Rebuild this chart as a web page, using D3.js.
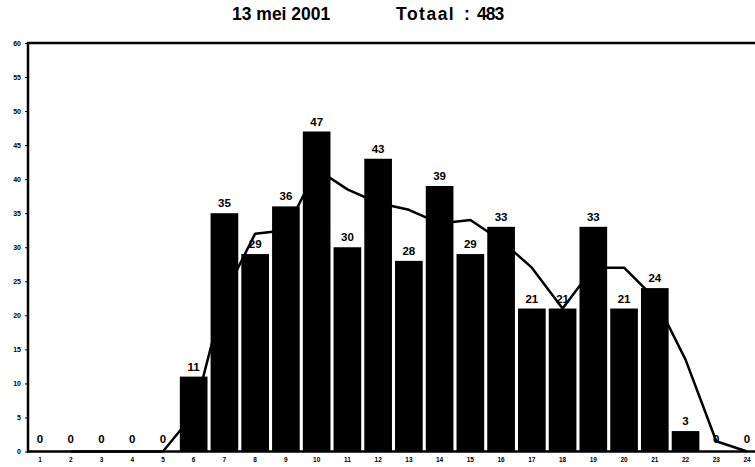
<!DOCTYPE html>
<html>
<head>
<meta charset="utf-8">
<script src="https://cdn.jsdelivr.net/npm/d3@7/dist/d3.min.js"></script>
<style>
  html, body { margin: 0; padding: 0; background: #fff; }
  svg { display: block; font-family: "Liberation Sans", Arial, sans-serif; }
</style>
</head>
<body>
<svg id="chart" width="755" height="467"></svg>
<script>
// ---- data ----
const titleDate = "13 mei 2001";
const titleLabel = "Totaal";
const titleTotal = "483";
const hours = d3.range(1, 25);
const counts = [0,0,0,0,0,11,35,29,36,47,30,43,28,39,29,33,21,21,33,21,24,3,0,0];
// 2-period moving average line (starts at hour 2)
const trend = [null,0,0,0,0,5.5,23,32,32.5,41.5,38.5,36.5,35.5,33.5,34,31,27,21,27,27,22.5,13.5,1.5,0];
const yTicks = [0,5,10,15,20,25,30,35,40,45,50,55,60];

// ---- layout ----
const svg = d3.select("#chart");
const plotLeft = 28, plotTop = 43, plotBottom = 451.5, plotRight = 755;

const x = d3.scaleBand().domain(hours).range([24.6, 762.4]).paddingInner(0.1).paddingOuter(0.05);
const y = d3.scaleLinear().domain([0, 60]).range([plotBottom, plotTop]);

// title
const tt = svg.append("text").attr("y", 20)
  .attr("font-size", 17.5).attr("font-weight", "bold").attr("fill", "#000");
tt.append("tspan").attr("x", 232).text(titleDate);
tt.append("tspan").attr("x", 396).attr("letter-spacing", 1.5).text(titleLabel);
tt.append("tspan").attr("x", 464).text(":");
tt.append("tspan").attr("x", 477).attr("letter-spacing", -1).text(titleTotal);

// bars
svg.append("g").selectAll("rect").data(hours.map((h, i) => ({h, v: counts[i]})))
  .join("rect")
  .attr("x", d => x(d.h))
  .attr("width", x.bandwidth())
  .attr("y", d => y(d.v))
  .attr("height", d => y(0) - y(d.v))
  .attr("fill", "#000");

// trend line
const line = d3.line()
  .defined(d => d.v !== null)
  .x(d => x(d.h) + x.bandwidth() / 2)
  .y(d => y(d.v));
svg.append("path")
  .datum(hours.map((h, i) => ({h, v: trend[i]})))
  .attr("d", line)
  .attr("fill", "none").attr("stroke", "#000").attr("stroke-width", 2.5)
  .attr("stroke-linejoin", "round");

// value labels
svg.append("g").selectAll("text").data(hours.map((h, i) => ({h, v: counts[i]})))
  .join("text")
  .attr("x", d => x(d.h) + x.bandwidth() / 2)
  .attr("y", d => y(d.v) - (d.v === 0 ? 9 : 6))
  .attr("text-anchor", "middle")
  .attr("font-size", 11.5).attr("font-weight", "bold").attr("fill", "#000")
  .text(d => d.v);

// y axis
const yAxis = svg.append("g").attr("transform", `translate(${plotLeft},0)`)
  .call(d3.axisLeft(y).tickValues(yTicks).tickSize(3).tickPadding(4));
yAxis.select(".domain").remove();
yAxis.selectAll("text").attr("font-size", 7).attr("font-weight", "bold").attr("fill", "#000");
yAxis.selectAll("line").attr("stroke", "#000").attr("stroke-width", 1);

// x axis labels
const xAxis = svg.append("g").attr("transform", `translate(0,${plotBottom})`)
  .call(d3.axisBottom(x).tickSize(0).tickPadding(6));
xAxis.select(".domain").remove();
xAxis.selectAll("text").attr("font-size", 6.5).attr("font-weight", "bold").attr("fill", "#000");

// frame lines
svg.append("line").attr("x1", plotLeft).attr("x2", plotLeft).attr("y1", plotTop - 1).attr("y2", plotBottom + 1)
  .attr("stroke", "#000").attr("stroke-width", 2.5);
svg.append("line").attr("x1", plotLeft - 1).attr("x2", plotRight).attr("y1", plotTop).attr("y2", plotTop)
  .attr("stroke", "#000").attr("stroke-width", 2.5);
svg.append("line").attr("x1", plotLeft - 1).attr("x2", plotRight).attr("y1", plotBottom).attr("y2", plotBottom)
  .attr("stroke", "#000").attr("stroke-width", 2.5);
</script>
</body>
</html>
